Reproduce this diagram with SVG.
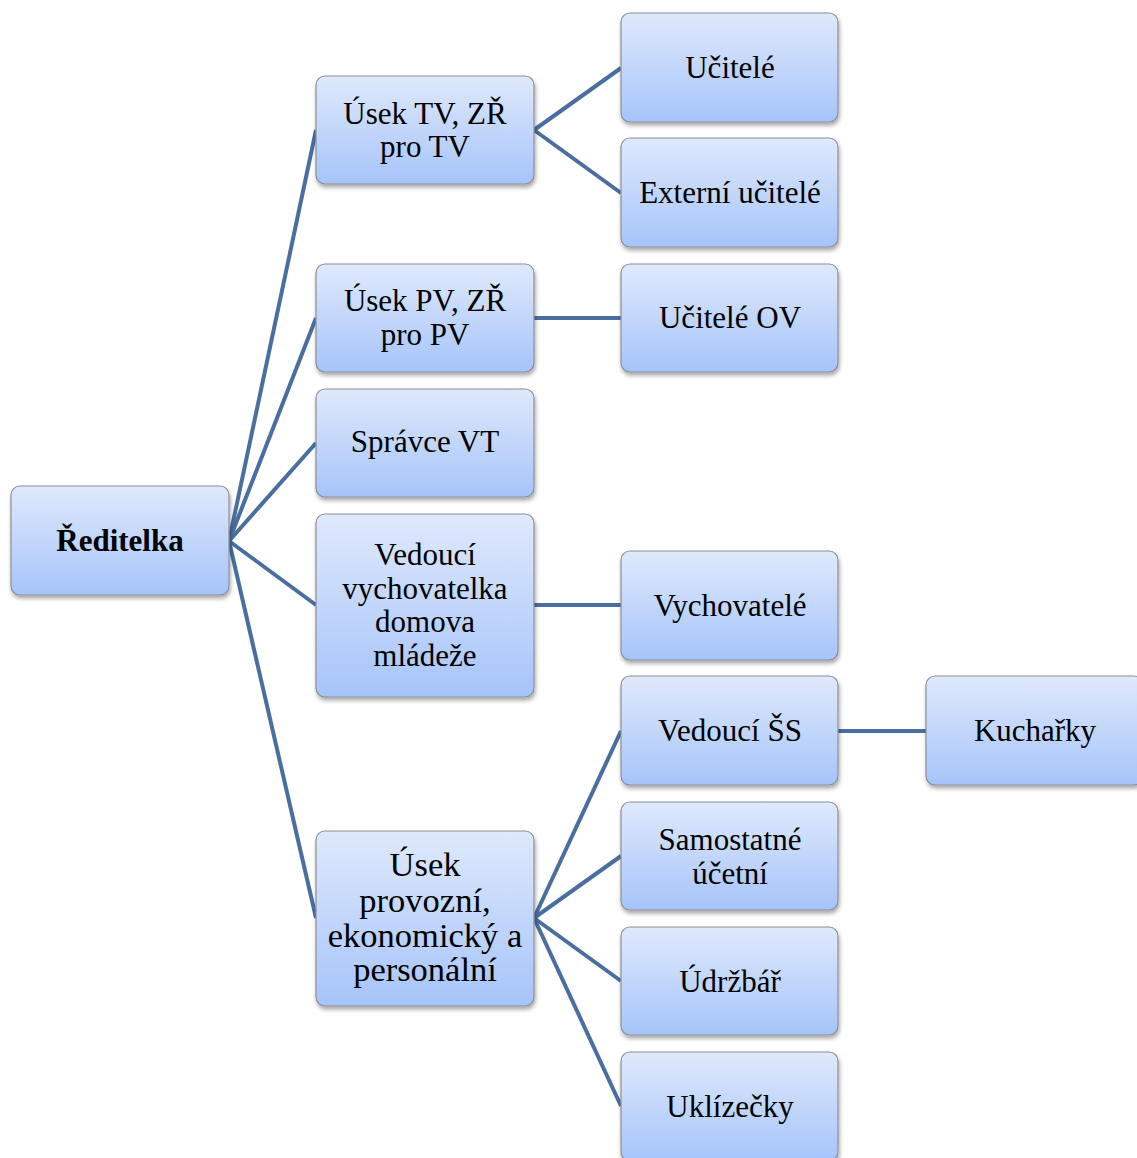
<svg xmlns="http://www.w3.org/2000/svg" width="1137" height="1158" viewBox="0 0 1137 1158">
<defs>
<linearGradient id="g" x1="0" y1="0" x2="0" y2="1">
<stop offset="0" stop-color="#dfe9fc"/>
<stop offset="1" stop-color="#a6c4fa"/>
</linearGradient>
<filter id="sh" x="-10%" y="-10%" width="125%" height="130%">
<feGaussianBlur in="SourceAlpha" stdDeviation="2"/>
<feOffset dx="1" dy="3" result="b"/>
<feComponentTransfer><feFuncA type="linear" slope="0.35"/></feComponentTransfer>
<feMerge><feMergeNode/><feMergeNode in="SourceGraphic"/></feMerge>
</filter>
</defs>
<style>
.n rect{fill:url(#g);stroke:#8c8f96;stroke-width:1.2;filter:url(#sh)}
.n text{font-family:"Liberation Serif","Times New Roman",serif;font-size:31px;fill:#000;text-anchor:middle}
.n text.b{font-weight:bold}
.n text.l{font-size:34.5px}
.c line{stroke:#4a6ea0;stroke-width:4;stroke-linecap:butt}
</style>
<rect width="1137" height="1158" fill="#fff"/>
<g class="c" id="connectors">
<line x1="229" y1="541" x2="316" y2="130"/>
<line x1="229" y1="541" x2="316" y2="318"/>
<line x1="229" y1="541" x2="316" y2="443"/>
<line x1="229" y1="541" x2="316" y2="605"/>
<line x1="229" y1="541" x2="316" y2="918"/>
<line x1="534" y1="130" x2="621" y2="68"/>
<line x1="534" y1="130" x2="621" y2="193"/>
<line x1="534" y1="318" x2="621" y2="318"/>
<line x1="534" y1="605" x2="621" y2="605"/>
<line x1="534" y1="918" x2="621" y2="731"/>
<line x1="534" y1="918" x2="621" y2="856"/>
<line x1="534" y1="918" x2="621" y2="981"/>
<line x1="534" y1="918" x2="621" y2="1106"/>
<line x1="838" y1="731" x2="926" y2="731"/>
</g>
<g class="n" id="reditelka"><rect x="11" y="486" width="218" height="109" rx="9"/><text class="b" x="120" y="551">Ředitelka</text></g>
<g class="n" id="usek-tv"><rect x="316" y="76" width="218" height="108" rx="9"/><text x="425" y="124">Úsek TV, ZŘ</text><text x="425" y="157">pro TV</text></g>
<g class="n" id="usek-pv"><rect x="316" y="264" width="218" height="108" rx="9"/><text x="425" y="311">Úsek PV, ZŘ</text><text x="425" y="345">pro PV</text></g>
<g class="n" id="spravce-vt"><rect x="316" y="389" width="218" height="108" rx="9"/><text x="425" y="452">Správce VT</text></g>
<g class="n" id="vedouci-vych"><rect x="316" y="514" width="218" height="183" rx="9"/><text x="425" y="565">Vedoucí</text><text x="425" y="599">vychovatelka</text><text x="425" y="632">domova</text><text x="425" y="666">mládeže</text></g>
<g class="n" id="usek-provozni"><rect x="316" y="831" width="218" height="175" rx="9"/><text class="l" x="425" y="876">Úsek</text><text class="l" x="425" y="912">provozní,</text><text class="l" x="425" y="947">ekonomický a</text><text class="l" x="425" y="981">personální</text></g>
<g class="n" id="ucitele"><rect x="621" y="13" width="217" height="109" rx="9"/><text x="730" y="78">Učitelé</text></g>
<g class="n" id="externi"><rect x="621" y="138" width="217" height="109" rx="9"/><text x="730" y="203">Externí učitelé</text></g>
<g class="n" id="ucitele-ov"><rect x="621" y="264" width="217" height="108" rx="9"/><text x="730" y="328">Učitelé OV</text></g>
<g class="n" id="vychovatele"><rect x="621" y="551" width="217" height="109" rx="9"/><text x="730" y="616">Vychovatelé</text></g>
<g class="n" id="vedouci-ss"><rect x="621" y="676" width="217" height="109" rx="9"/><text x="730" y="741">Vedoucí ŠS</text></g>
<g class="n" id="samostatne"><rect x="621" y="802" width="217" height="108" rx="9"/><text x="730" y="850">Samostatné</text><text x="730" y="884">účetní</text></g>
<g class="n" id="udrzbar"><rect x="621" y="927" width="217" height="108" rx="9"/><text x="730" y="992">Údržbář</text></g>
<g class="n" id="uklizecky"><rect x="621" y="1052" width="217" height="109" rx="9"/><text x="730" y="1117">Uklízečky</text></g>
<g class="n" id="kucharky"><rect x="926" y="676" width="217" height="109" rx="9"/><text x="1035" y="741">Kuchařky</text></g>
</svg>
